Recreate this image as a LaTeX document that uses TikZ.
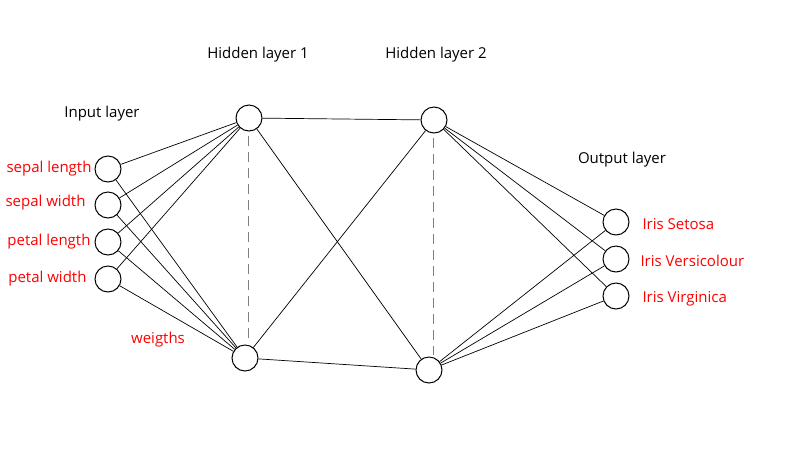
\documentclass[tikz,border=0pt]{standalone}
\usepackage{fontspec}
\setmainfont{Open Sans}
\begin{document}
\begin{tikzpicture}[x=1pt,y=-1pt,
  neuron/.style={circle,draw,line width=1pt,minimum size=26pt,inner sep=0pt},
  lbl/.style={font=\fontsize{15}{18}\selectfont},
  red/.style={lbl,text=red},
  conn/.style={draw,line width=0.7pt}]
\useasboundingbox (0,0) rectangle (792,459);
\node[neuron] (i1) at (108,169) {};
\node[neuron] (i2) at (108,205) {};
\node[neuron] (i3) at (108,242) {};
\node[neuron] (i4) at (108,279) {};
\node[neuron] (h1) at (249,118) {};
\node[neuron] (h2) at (245,358) {};
\node[neuron] (g1) at (434,120) {};
\node[neuron] (g2) at (429,370) {};
\node[neuron] (o1) at (616,222) {};
\node[neuron] (o2) at (616,259) {};
\node[neuron] (o3) at (616,296) {};
\coordinate (d1a) at (248,136); \coordinate (d1b) at (248,340);
\coordinate (d2a) at (433,138); \coordinate (d2b) at (433,355);
\draw[dash pattern=on 10pt off 6pt,gray] (d1a) -- (d1b);
\draw[dash pattern=on 10pt off 6pt,gray] (d2a) -- (d2b);
\foreach \i in {i1,i2,i3,i4}{\foreach \h in {h1,h2}{\draw[conn] (\i) -- (\h);}}
\foreach \h in {h1,h2}{\foreach \g in {g1,g2}{\draw[conn] (\h) -- (\g);}}
\foreach \g in {g1,g2}{\foreach \o in {o1,o2,o3}{\draw[conn] (\g) -- (\o);}}
\node[lbl] (t1) at (102,114) {Input layer};
\node[lbl] (t2) at (258,55) {Hidden layer 1};
\node[lbl] (t3) at (436,55) {Hidden layer 2};
\node[lbl] (t4) at (622,160) {Output layer};
\node[red,anchor=east] (l1) at (95,169) {sepal length};
\node[red,anchor=east] (l2) at (89,203) {sepal width};
\node[red,anchor=east] (l3) at (94,242) {petal length};
\node[red,anchor=east] (l4) at (90,279) {petal width};
\node[red] (w) at (158,340) {weigths};
\node[red,anchor=west] (r1) at (639,224) {Iris Setosa};
\node[red,anchor=west] (r2) at (637,261) {Iris Versicolour};
\node[red,anchor=west] (r3) at (639,299) {Iris Virginica};
\end{tikzpicture}
\end{document}
